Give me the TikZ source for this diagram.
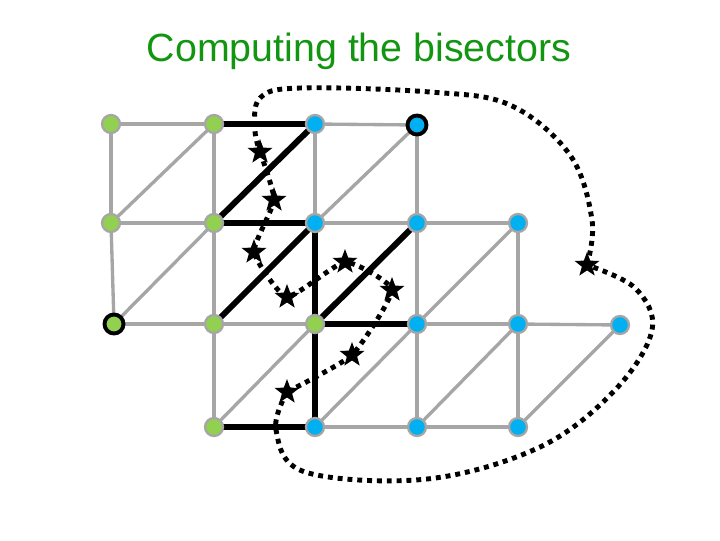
\documentclass[tikz,border=0pt]{standalone}
\usepackage{fontspec}
\setmainfont{Liberation Sans}
\usepackage{tikz}
\usetikzlibrary{shapes.geometric, backgrounds}
\definecolor{siteA}{RGB}{146,208,80}
\definecolor{siteB}{RGB}{0,176,240}
\definecolor{meshgray}{RGB}{166,166,166}
\definecolor{titlegreen}{RGB}{18,150,18}

\begin{document}
\begin{tikzpicture}[x=1cm, y=-1cm,
  site/.style={circle, draw=meshgray, line width=0.65pt, inner sep=0pt, minimum size=0.18cm},
  siteA/.style={site, fill=siteA},
  siteB/.style={site, fill=siteB},
  ring/.style={draw=black, line width=1.1pt, minimum size=0.19cm},
  mesh/.style={meshgray, line width=0.95pt},
  front/.style={black, line width=1.7pt},
  bisect/.style={black, line width=1.4pt, dash pattern=on 1.4pt off 1.4pt},
  bstar/.style={star, star points=5, star point ratio=2.4, fill=black, inner sep=0pt, minimum size=0.26cm}]
  \useasboundingbox (0,0) rectangle (7.2,5.4);

  \node[font=\fontsize{11.2}{13}\selectfont, text=titlegreen, anchor=base] (title) at (3.59,0.62) {Computing the bisectors};

  % green sites
  \foreach \n/\x/\y in {a1/1.11/1.24, a2/2.14/1.24, b1/1.11/2.23, b2/2.14/2.23,
                        c2/2.14/3.24, c3/3.15/3.24, d2/2.14/4.27}
    \node[siteA] (\n) at (\x,\y) {};
  \node[siteA, ring] (c1) at (1.14,3.24) {};
  % blue sites
  \foreach \n/\x/\y in {a3/3.15/1.24, b3/3.15/2.23, b4/4.17/2.23, b5/5.18/2.23,
                        c4/4.17/3.24, c5/5.18/3.24, c6/6.20/3.25,
                        d3/3.15/4.27, d4/4.17/4.27, d5/5.18/4.27}
    \node[siteB] (\n) at (\x,\y) {};
  \node[siteB, ring] (a4) at (4.17,1.25) {};

  % bisector points
  \foreach \n/\x/\y in {s1/2.60/1.52, s2/2.74/2.00, s3/2.54/2.52, s4/2.87/2.97, s5/3.45/2.62,
                        s6/3.92/2.90, s7/3.52/3.55, s8/2.87/3.92, s9/5.87/2.65}
    \node[bstar] (\n) at (\x,\y) {};

  % way points of the outer loop
  \foreach \n/\x/\y in {t1/5.92/2.20, t2/5.70/1.55, t3/5.10/1.05, t4/4.30/0.92, t5/3.00/0.88,
                        t6/2.60/0.98, t7/2.55/1.30,
                        u1/2.76/4.30, u2/3.05/4.72, u3/4.27/4.79, u4/5.40/4.47, u5/6.15/3.90,
                        u6/6.52/3.30, u7/6.35/2.88}
    \coordinate (\n) at (\x,\y);

  \begin{pgfonlayer}{background}
    % triangulation
    \foreach \u/\v in {a1/a2, a3/a4, b1/b2, b3/b4, b4/b5, c1/c2, c2/c3, c4/c5, c5/c6, d3/d4, d4/d5,
                       a1/b1, b1/c1, a2/b2, b2/c2, c2/d2, a3/b3, a4/b4, b4/c4, c4/d4, b5/c5, c5/d5,
                       b1/a2, c1/b2, b3/a4, d2/c3, d3/c4, c4/b5, d4/c5, d5/c6}
      \draw[mesh] (\u.center) -- (\v.center);
    % boundary between the two sets
    \foreach \u/\v in {a2/a3, b2/a3, b2/b3, c2/b3, b3/c3, c3/b4, c3/c4, c3/d3, d2/d3}
      \draw[front] (\u.center) -- (\v.center);
    % bisector, inside and outside the mesh
    \draw[bisect] plot[smooth, tension=0.3] coordinates {(s1.center) (s2.center) (s3.center)
      (s4.center) (s5.center) (s6.center) (s7.center) (s8.center)};
    \draw[bisect] plot[smooth, tension=0.6] coordinates {(s8.center) (u1) (u2) (u3) (u4) (u5) (u6) (u7)
      (s9.center)};
    \draw[bisect] plot[smooth, tension=0.6] coordinates {(s9.center) (t1) (t2) (t3) (t4) (t5) (t6) (t7)
      (s1.center)};
  \end{pgfonlayer}
\end{tikzpicture}
\end{document}
